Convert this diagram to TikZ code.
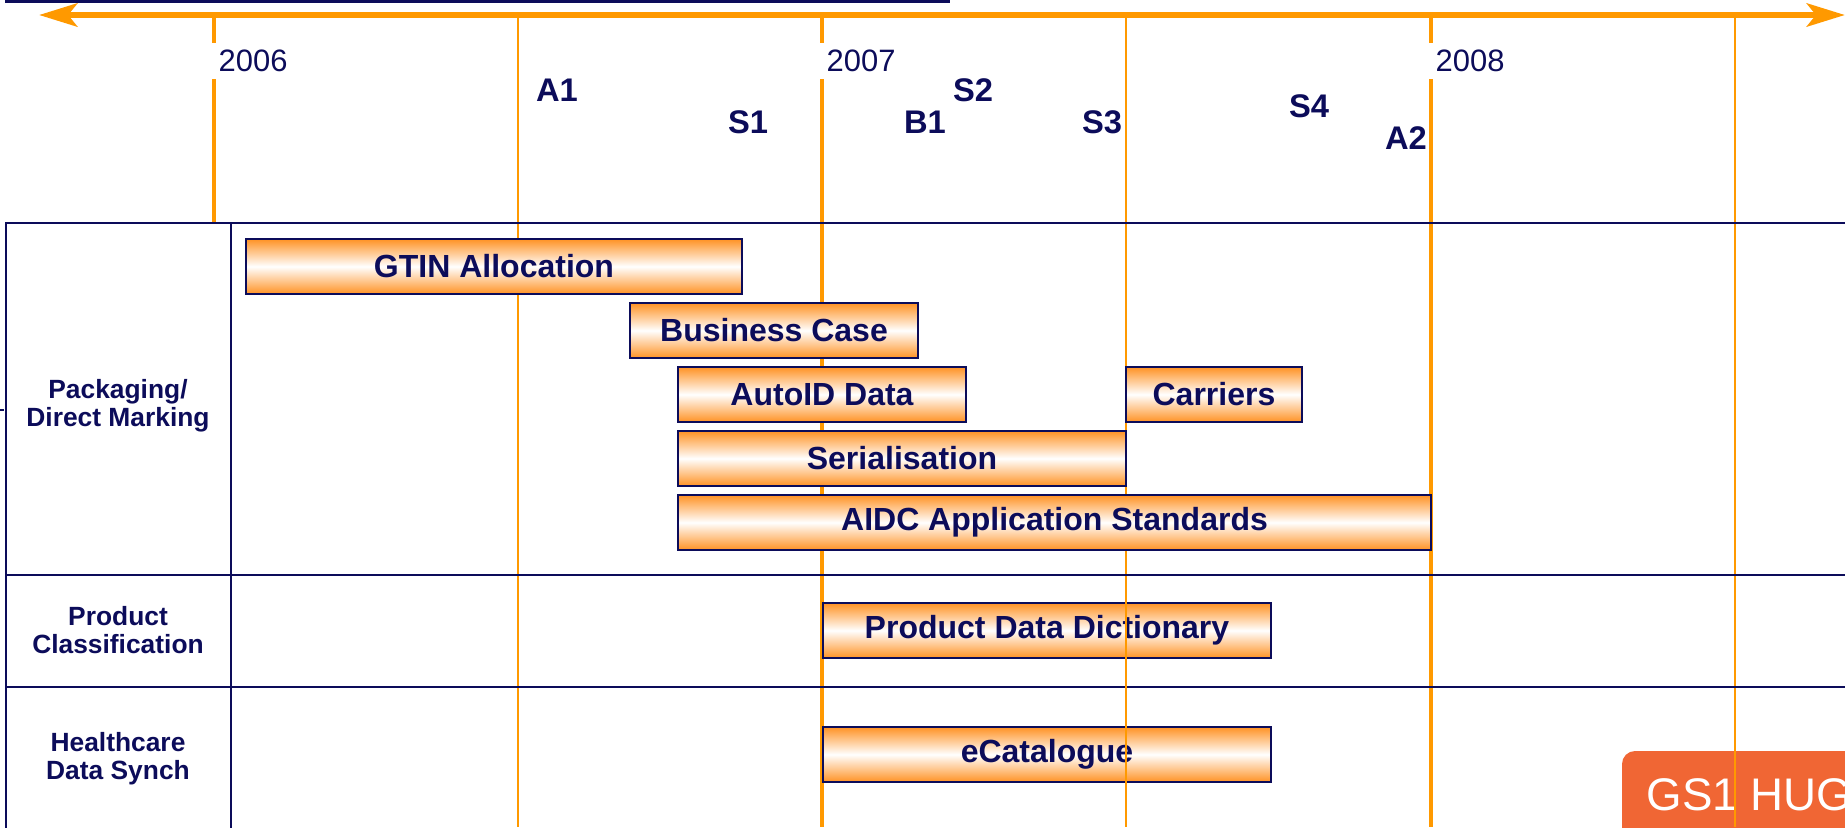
\documentclass[tikz,border=0pt]{standalone}
\usepackage{fontspec}
\setmainfont{Liberation Sans}
\usetikzlibrary{arrows.meta}
\definecolor{gsnavy}{RGB}{12,12,90}
\definecolor{lineorange}{RGB}{255,153,0}
\definecolor{barorange}{RGB}{255,146,36}
\definecolor{hugred}{RGB}{240,102,52}

\begin{document}
\begin{tikzpicture}[x=0.01cm, y=-0.01cm,
    yearline/.style={lineorange, line width=0.035cm},
    halfline/.style={lineorange, line width=0.013cm},
    grid/.style={gsnavy, line width=0.025cm},
    year/.style={text=gsnavy, fill=white, anchor=west, inner sep=0.07cm,
        font=\fontsize{8.8pt}{10pt}\selectfont},
    tag/.style={text=gsnavy, inner sep=0pt, font=\fontsize{9.3pt}{11pt}\selectfont\bfseries},
    rowlabel/.style={text=gsnavy, align=center, font=\fontsize{7.5pt}{8pt}\selectfont\bfseries},
    bar/.style={draw=gsnavy, line width=0.015cm, top color=barorange,
        bottom color=barorange, middle color=white},
    bartext/.style={text=gsnavy, inner sep=0pt, font=\fontsize{9.1pt}{11pt}\selectfont\bfseries}]
    \useasboundingbox (0,0) rectangle (1845,827);

    % top border and time axis
    \draw[gsnavy, line width=0.03cm] (5,1.3) -- (950,1.3);
    \draw[lineorange, line width=0.067cm,
        {Stealth[length=0.38cm, width=0.23cm, inset=0.09cm]}-{Stealth[length=0.38cm, width=0.23cm, inset=0.09cm]}]
        (39,15) -- (1845,15);

    % year and half-year lines
    \foreach \x in {518,1126,1735}
        \draw[halfline] (\x,15) -- (\x,827);
    \draw[yearline] (214,15) -- (214,223);
    \foreach \x in {822,1431}
        \draw[yearline] (\x,15) -- (\x,827);
    \node[year] (y2006) at (211,61) {2006};
    \node[year] (y2007) at (819,61) {2007};
    \node[year] (y2008) at (1428,61) {2008};

    % milestones
    \node[tag] (a1) at (557,90) {A1};
    \node[tag] (s1) at (748,122) {S1};
    \node[tag] (s2) at (973,90) {S2};
    \node[tag] (b1) at (925,122) {B1};
    \node[tag] (s3) at (1102,122) {S3};
    \node[tag] (s4) at (1309,106) {S4};
    \node[tag] (a2) at (1406,138) {A2};

    % table
    \draw[grid] (1860,223) -- (6,223) -- (6,840);
    \draw[grid] (231,223) -- (231,840);
    \foreach \y in {575,687}
        \draw[grid] (6,\y) -- (1860,\y);
    \draw[gsnavy, line width=0.02cm] (0,410) -- (4,410);
    \node[rowlabel] (rpack) at (118,406) {Packaging/\\Direct Marking};
    \node[rowlabel] (rclass) at (118,630) {Product\\Classification};
    \node[rowlabel] (rsynch) at (118,759) {Healthcare\\Data Synch};

    % activities
    \foreach \name/\xa/\xb/\yy/\txt in {
        gtin/246/742/239/GTIN Allocation,
        bcase/630/918/303/Business Case,
        autoid/678/966/367/AutoID Data,
        carriers/1126/1302/367/Carriers,
        serial/678/1126/431/Serialisation,
        aidc/678/1431/495/AIDC Application Standards,
        pdd/823/1271/603/Product Data Dictionary,
        ecat/823/1271/727/eCatalogue}{
        \draw[bar] (\xa,\yy) rectangle (\xb,\yy+55);
        \node[bartext] (\name) at ({(\xa+\xb)/2},{\yy+27.5}) {\txt};
    }
    \draw[halfline] (1126,577) -- (1126,827);

    % logo
    \fill[hugred, rounded corners=0.13cm] (1622,751) rectangle (1900,880);
    \node[anchor=base west, text=white, inner sep=0pt,
        font=\fontsize{13pt}{15pt}\selectfont] (hug) at (1646,810) {GS1 HUG};
    \draw[halfline] (1735,751) -- (1735,827);
\end{tikzpicture}
\end{document}
